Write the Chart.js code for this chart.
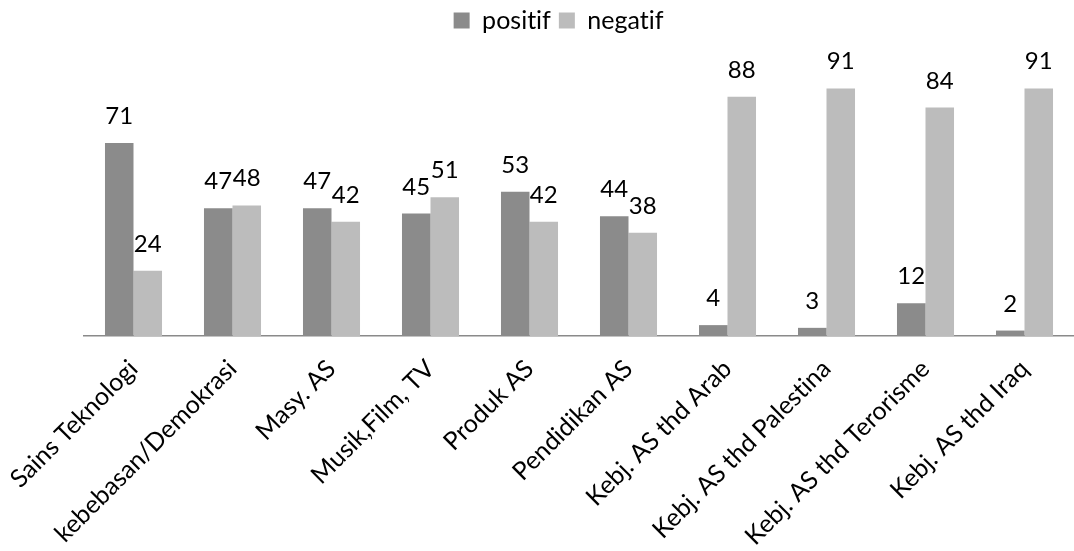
<!DOCTYPE html>
<html>
<head>
<meta charset="utf-8">
<script src="https://cdn.jsdelivr.net/npm/chart.js@4.4.1/dist/chart.umd.min.js"></script>
<style>
  html, body { margin: 0; padding: 0; background: #ffffff; }
  #wrap { width: 1074px; height: 551px; position: relative; }
</style>
</head>
<body>
<div id="wrap"><canvas id="c"></canvas></div>
<script>
// Persepsi terhadap Amerika Serikat per aspek
const categories = [
  'Sains Teknologi', 'kebebasan/Demokrasi', 'Masy. AS', 'Musik,Film, TV',
  'Produk AS', 'Pendidikan AS', 'Kebj. AS thd Arab', 'Kebj. AS thd Palestina',
  'Kebj. AS thd Terorisme', 'Kebj. AS thd Iraq'
];
const positif = [71, 47, 47, 45, 53, 44, 4, 3, 12, 2];
const negatif = [24, 48, 42, 51, 42, 38, 88, 91, 84, 91];

const FONT = 'Lato, "Open Sans", sans-serif';

// plain glyphs, no ligatures
const plainText = {
  id: 'plainText',
  beforeDraw(chart) {
    chart.ctx.textRendering = 'optimizeSpeed';
  }
};

// extra room between the legend and the bars
const legendGap = {
  id: 'legendGap',
  beforeInit(chart) {
    const fit = chart.legend.fit;
    chart.legend.fit = function () {
      fit.call(this);
      this.height += 21;
    };
  }
};

// writes each bar's value above it
const valueLabels = {
  id: 'valueLabels',
  afterDatasetsDraw(chart) {
    const ctx = chart.ctx;
    ctx.save();
    ctx.font = '24px ' + FONT;
    ctx.fillStyle = '#000000';
    ctx.textAlign = 'center';
    ctx.textBaseline = 'alphabetic';
    chart.data.datasets.forEach((ds, i) => {
      chart.getDatasetMeta(i).data.forEach((bar, j) => {
        ctx.fillText(String(ds.data[j]), bar.x, bar.y - 19);
      });
    });
    ctx.restore();
  }
};

new Chart(document.getElementById('c'), {
  type: 'bar',
  data: {
    labels: categories,
    datasets: [
      { label: 'positif', data: positif, backgroundColor: '#8b8b8b' },
      { label: 'negatif', data: negatif, backgroundColor: '#bcbcbc' }
    ]
  },
  options: {
    responsive: true,
    maintainAspectRatio: false,
    animation: false,
    layout: { padding: { left: 44, right: 0, top: 0, bottom: 0 } },
    datasets: { bar: { categoryPercentage: 0.576, barPercentage: 1.0 } },
    plugins: {
      legend: {
        position: 'top',
        labels: {
          font: { family: FONT, size: 25 },
          color: '#000000',
          boxWidth: 16,
          boxHeight: 16,
          padding: 8
        }
      },
      tooltip: { enabled: false }
    },
    scales: {
      x: {
        grid: { display: false, drawTicks: false },
        border: { display: true, color: '#8a8a8a', width: 1.5 },
        ticks: {
          autoSkip: false,
          maxRotation: 45,
          minRotation: 45,
          padding: 18,
          color: '#000000',
          font: { family: FONT, size: 25 }
        },
        afterFit(scale) {
          scale.paddingLeft = 84;
          scale.paddingRight = 0;
          scale.height = 215;
        }
      },
      y: {
        display: false,
        min: 0,
        max: 100
      }
    }
  },
  plugins: [plainText, legendGap, valueLabels]
});
</script>
</body>
</html>
